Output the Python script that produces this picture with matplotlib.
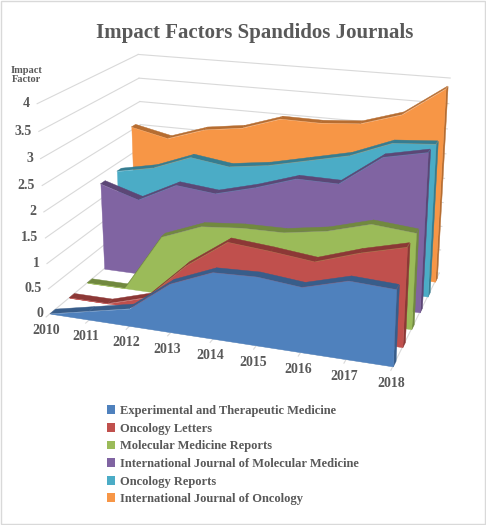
import numpy as np
import matplotlib.pyplot as plt
from mpl_toolkits.mplot3d.art3d import Poly3DCollection
from mpl_toolkits.mplot3d import proj3d
from matplotlib.patches import Patch, Rectangle
from matplotlib.transforms import offset_copy

# datos
anios = [2010, 2011, 2012, 2013, 2014, 2015, 2016, 2017, 2018]
etm = [0, 0.17, 0.34, 0.94, 1.27, 1.30, 1.22, 1.45, 1.41]
oncol_letters = [0, 0, 0.24, 0.99, 1.55, 1.48, 1.39, 1.66, 1.87]
mol_med_rep = [0, 0, 1.17, 1.48, 1.55, 1.56, 1.69, 1.92, 1.85]
ijmm = [1.81, 1.57, 1.96, 1.88, 2.09, 2.35, 2.34, 2.93, 3.10]
oncol_reports = [1.84, 2.00, 2.30, 2.19, 2.30, 2.48, 2.66, 2.98, 3.04]
ijo = [2.57, 2.40, 2.66, 2.77, 3.03, 3.02, 3.08, 3.33, 3.90]

nombres = ['Experimental and Therapeutic Medicine', 'Oncology Letters',
           'Molecular Medicine Reports', 'International Journal of Molecular Medicine',
           'Oncology Reports', 'International Journal of Oncology']
valores = [etm, oncol_letters, mol_med_rep, ijmm, oncol_reports, ijo]
colores = ['#4F81BD', '#C0504D', '#9BBB59', '#8064A2', '#4BACC6', '#F79646']
oscuros = ['#385D8A', '#8C3836', '#71893F', '#5C4776', '#357D91', '#B66D31']
ticks_z = [0, 0.5, 1, 1.5, 2, 2.5, 3, 3.5, 4]
ticks_z_txt = ['0', '0.5', '1', '1.5', '2', '2.5', '3', '3.5', '4']

plt.rcParams['font.family'] = ['Liberation Serif', 'DejaVu Serif']
gris = '#595959'

fig = plt.figure(figsize=(4.86, 5.25), dpi=100)
ax = fig.add_axes([-0.198, 0.188, 1.41, 0.86], projection='3d', computed_zorder=False)
ax.set_proj_type('persp', focal_length=0.48)
ax.view_init(elev=19, azim=-71)
ax.set_box_aspect((10.0, 6.6, 6.2))
ax.set_axis_off()

x = np.arange(len(anios))
xmax = x[-1]
yfondo = 5.6
grosor = 0.28
ax.set_xlim(0, xmax)
ax.set_ylim(0, yfondo)
ax.set_zlim(0, 4)

# lineas de la pared izquierda y del fondo
for z in ticks_z:
    ax.plot([0, 0], [0, yfondo], [z, z], color='#d9d9d9', lw=0.8, zorder=1)
    ax.plot([0, xmax], [yfondo, yfondo], [z, z], color='#d9d9d9', lw=0.8, zorder=1)
ax.plot([0, xmax], [0, 0], [0, 0], color='#d9d9d9', lw=0.8, zorder=1)
ax.plot([xmax, xmax], [0, yfondo], [0, 0], color='#d9d9d9', lw=0.8, zorder=1)
for xi in x:
    ax.plot([xi, xi], [0, -0.2], [0, 0], color='#d9d9d9', lw=0.8, zorder=1)

# areas 3D, de atras hacia adelante
for i in range(len(valores) - 1, -1, -1):
    v = valores[i]
    y0 = i
    y1 = i + grosor
    tapa = []
    for k in range(len(x) - 1):
        tapa.append([(x[k], y0, v[k]), (x[k + 1], y0, v[k + 1]),
                     (x[k + 1], y1, v[k + 1]), (x[k], y1, v[k])])
    pc = Poly3DCollection(tapa, facecolor=oscuros[i], edgecolor=oscuros[i], lw=0.3)
    pc.set_zorder(10 + 3 * (5 - i))
    ax.add_collection3d(pc)
    lado = [[(xmax, y0, 0), (xmax, y0, v[-1]), (xmax, y1, v[-1]), (xmax, y1, 0)]]
    pc = Poly3DCollection(lado, facecolor=oscuros[i], edgecolor=oscuros[i], lw=0.3)
    pc.set_zorder(11 + 3 * (5 - i))
    ax.add_collection3d(pc)
    frente = [[(x[0], y0, 0)] + [(x[k], y0, v[k]) for k in range(len(x))] + [(xmax, y0, 0)]]
    pc = Poly3DCollection(frente, facecolor=colores[i], edgecolor=colores[i], lw=0.3)
    pc.set_zorder(12 + 3 * (5 - i))
    ax.add_collection3d(pc)

# etiquetas: se proyectan a 2D para colocarlas como texto normal
fig.canvas.draw()
M = ax.get_proj()
tr_anios = offset_copy(ax.transData, fig=fig, x=0, y=-5, units='points')
for xi, a in zip(x, anios):
    px, py, _ = proj3d.proj_transform(xi, -0.2, 0, M)
    ax.text2D(px, py, str(a), transform=tr_anios, ha='center', va='top',
              fontsize=10, fontweight='bold', color=gris, zorder=50)
tr_z = offset_copy(ax.transData, fig=fig, x=-5, y=0, units='points')
for z, t in zip(ticks_z, ticks_z_txt):
    px, py, _ = proj3d.proj_transform(0, 0, z, M)
    ax.text2D(px, py, t, transform=tr_z, ha='right', va='center',
              fontsize=10, fontweight='bold', color=gris, zorder=50)

fig.text(0.055, 0.857, 'Impact\nFactor', ha='center', va='center', fontsize=7.5,
         fontweight='bold', color=gris, linespacing=1.1)
fig.text(0.525, 0.937, 'Impact Factors Spandidos Journals', ha='center', va='center',
         fontsize=15, fontweight='bold', color=gris)

handles = [Patch(facecolor=c, edgecolor='none') for c in colores]
fig.legend(handles, nombres, loc='upper left', bbox_to_anchor=(0.196, 0.25),
           frameon=False, handlelength=0.7, handleheight=0.7,
           handletextpad=0.4, labelspacing=0.45, labelcolor=gris,
           prop={'weight': 'bold', 'size': 9})

fig.add_artist(Rectangle((0.002, 0.002), 0.996, 0.996, transform=fig.transFigure,
                         fill=False, edgecolor='#d9d9d9', lw=1))

fig.savefig('out.png', dpi=100)
